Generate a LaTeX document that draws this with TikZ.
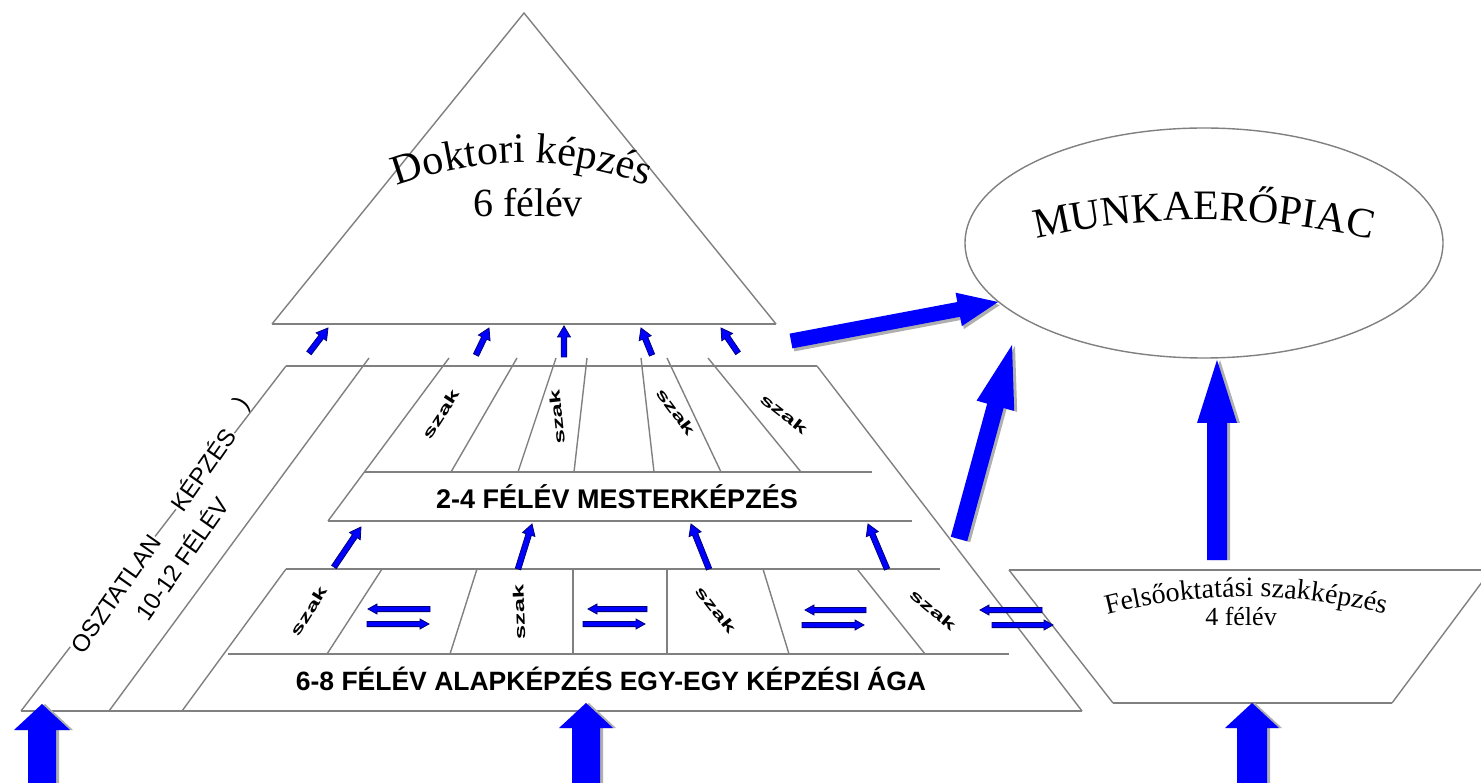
\documentclass[tikz,border=0pt]{standalone}
\usepackage{graphicx}
\usepackage{fontspec}
\setmainfont{Liberation Serif}
\newfontfamily\sansf{Liberation Sans}
\usetikzlibrary{calc,decorations.text,shapes.geometric}
\definecolor{lgray}{RGB}{128,128,128}
\definecolor{abl}{RGB}{0,0,255}
\definecolor{anv}{RGB}{0,0,120}
\definecolor{ashadow}{RGB}{175,175,175}
% #2 start, #3 tip, #4 shaft half width, #5 head half width, #6 head length
\newcommand\myblockarrow[6][]{%
  \path (#2) coordinate (ba-s) (#3) coordinate (ba-t);
  \path ($(ba-t)!#6!(ba-s)$) coordinate (ba-h);
  \path[#1] ($(ba-s)!#4!90:(ba-t)$) -- ($(ba-h)!#4!-90:(ba-s)$) -- ($(ba-h)!#5!-90:(ba-s)$) -- (ba-t) -- ($(ba-h)!#5!90:(ba-s)$) -- ($(ba-h)!#4!90:(ba-s)$) -- ($(ba-s)!#4!-90:(ba-t)$) -- cycle;}
\begin{document}
\begin{tikzpicture}[x=1pt,y=-1pt,
  hline/.style={draw=lgray, line width=2.6pt},
  dline/.style={draw=lgray, line width=1.4pt},
  bigarrow/.style={fill=abl},
  bigshadow/.style={fill=ashadow},
  smallarrow/.style={fill=abl, draw=anv, line width=0.8pt, line join=miter},
  szak/.style={font=\sansf\bfseries\fontsize{15}{15}\selectfont, inner sep=0pt},
  band/.style={font=\sansf\bfseries\fontsize{27}{27}\selectfont, anchor=base, inner sep=0pt},
  osz/.style={font=\sansf\fontsize{24}{24}\selectfont, rotate=55, inner sep=0.5pt, fill=white},
  arctext/.style={decorate, decoration={text along path, text align=center, text={#1}}}
]
\useasboundingbox (0,0) rectangle (1481,783);
\fill[white] (0,0) rectangle (1481,783);
\clip (0,0) rectangle (1481,783);

% ---------- triangle (doctoral) ----------
\coordinate (tA) at (524,13); \coordinate (tL) at (272,324); \coordinate (tR) at (776,324);
\draw[dline] (tL) -- (tA) -- (tR);
\draw[hline] (tL) -- (tR);

% ---------- pyramid outline ----------
\draw[dline] (286,366) -- (21,711);
\draw[dline] (817,366) -- (1082,711);
\draw[hline] (286,366) -- (817,366);
\draw[hline] (364,472) -- (872,472);
\draw[hline] (328,521) -- (912,521);
\draw[hline] (286,569) -- (940,569);
\draw[hline] (228,654) -- (1009,654);
\draw[hline] (21,711) -- (1082,711);

% level 2 dividers
\draw[dline] (369,358) -- (109,711);
\draw[dline] (449,358) -- (328,521);
\draw[dline] (517,358) -- (451,472);
\draw[dline] (556,358) -- (518,472);
\draw[dline] (587,358) -- (574,472);
\draw[dline] (641,358) -- (654,472);
\draw[dline] (667,358) -- (721,472);
\draw[dline] (708,358) -- (801,472);

% lower layer dividers
\draw[dline] (286,569) -- (182,711);
\draw[dline] (382,569) -- (327,654);
\draw[dline] (477,569) -- (450,654);
\draw[dline] (573,569) -- (573,654);
\draw[dline] (667,569) -- (667,654);
\draw[dline] (763,569) -- (789,654);
\draw[dline] (857,569) -- (925,654);

% ---------- Felsooktatasi szakkepzes trapezoid ----------
\draw[hline] (1009,570) -- (1495,570);
\draw[hline] (1113,703) -- (1392,703);
\draw[dline] (1009,570) -- (1113,703);
\draw[dline] (1392,703) -- (1491,570);

% ---------- ellipse ----------
\node[draw=lgray, line width=1.4pt, ellipse, minimum width=478pt, minimum height=230pt, inner sep=0pt] (munka) at (1204,243) {};

% ---------- small arrows, top row ----------
\coordinate (a1s) at (309,353); \coordinate (a1t) at (328,328);
\coordinate (a2s) at (476,355); \coordinate (a2t) at (489,328);
\coordinate (a3s) at (564,357); \coordinate (a3t) at (564,326);
\coordinate (a4s) at (652,355); \coordinate (a4t) at (641,328);
\coordinate (a5s) at (738,353); \coordinate (a5t) at (721,328);
\foreach \i in {1,...,5} {\myblockarrow[smallarrow]{a\i s}{a\i t}{2.8pt}{6.5pt}{11pt}}

% ---------- small arrows, second row ----------
\coordinate (b1s) at (334,567); \coordinate (b1t) at (361,527);
\coordinate (b2s) at (518,569); \coordinate (b2t) at (532,524);
\coordinate (b3s) at (709,569); \coordinate (b3t) at (691,524);
\coordinate (b4s) at (887,569); \coordinate (b4t) at (868,524);
\foreach \i in {1,...,4} {\myblockarrow[smallarrow]{b\i s}{b\i t}{2.8pt}{6.5pt}{11pt}}

% ---------- exchange arrows ----------
\coordinate (c1ls) at (430,609); \coordinate (c1lt) at (368,609);
\coordinate (c1rs) at (367,624); \coordinate (c1rt) at (429,624);
\coordinate (c2ls) at (647,609); \coordinate (c2lt) at (588,609);
\coordinate (c2rs) at (583,624); \coordinate (c2rt) at (645,624);
\coordinate (c3ls) at (866,610); \coordinate (c3lt) at (805,610);
\coordinate (c3rs) at (802,625); \coordinate (c3rt) at (864,625);
\coordinate (c4ls) at (1042,610); \coordinate (c4lt) at (980,610);
\coordinate (c4rs) at (992,625); \coordinate (c4rt) at (1053,625);
\foreach \i in {1,...,4} {
  \myblockarrow[smallarrow]{c\i ls}{c\i lt}{2.6pt}{5pt}{9pt}
  \myblockarrow[smallarrow]{c\i rs}{c\i rt}{2.6pt}{5pt}{9pt}}

% ---------- big arrows ----------
\coordinate (B1s) at (42,800);   \coordinate (B1t) at (42,704);
\coordinate (B2s) at (586,800);  \coordinate (B2t) at (586,703);
\coordinate (B3s) at (1252,800); \coordinate (B3t) at (1252,703);
\coordinate (B4s) at (1217,560); \coordinate (B4t) at (1217,360);
\coordinate (B5s) at (959,539);  \coordinate (B5t) at (1012,345);
\coordinate (B6s) at (791,341);  \coordinate (B6t) at (998,302);
\myblockarrow[bigshadow]{$(B1s)+(3,0)$}{$(B1t)+(3,0)$}{14pt}{28pt}{26pt}
\myblockarrow[bigarrow]{B1s}{B1t}{14pt}{28pt}{26pt}
\myblockarrow[bigshadow]{$(B2s)+(3,0)$}{$(B2t)+(3,0)$}{14pt}{27pt}{25pt}
\myblockarrow[bigarrow]{B2s}{B2t}{14pt}{27pt}{25pt}
\myblockarrow[bigshadow]{$(B3s)+(3,0)$}{$(B3t)+(3,0)$}{15pt}{27pt}{25pt}
\myblockarrow[bigarrow]{B3s}{B3t}{15pt}{27pt}{25pt}
\myblockarrow[bigshadow]{$(B4s)+(3,0)$}{$(B4t)+(3,0)$}{10pt}{20pt}{63pt}
\myblockarrow[bigarrow]{B4s}{B4t}{10pt}{20pt}{63pt}
\myblockarrow[bigshadow]{$(B5s)+(3,1)$}{$(B5t)+(3,1)$}{8.5pt}{19.5pt}{63pt}
\myblockarrow[bigarrow]{B5s}{B5t}{8.5pt}{19.5pt}{63pt}
\myblockarrow[bigshadow]{$(B6s)+(2,3)$}{$(B6t)+(2,3)$}{7.5pt}{17pt}{40pt}
\myblockarrow[bigarrow]{B6s}{B6t}{7.5pt}{17pt}{40pt}

% ---------- arched texts ----------
\path[arctext={|\fontsize{42}{42}\selectfont|Doktori képzés}] (396,186) .. controls (480,155) and (564,155) .. (648,186);
\node[anchor=base, font=\fontsize{40}{40}\selectfont, inner sep=0pt] (dkf) at (528,217) {6 félév};
\path[arctext={|\fontsize{42}{42}\selectfont|MUNKAERŐPIAC}] (1028,241) .. controls (1145,213) and (1263,213) .. (1380,241);
\path[arctext={|\fontsize{28}{28}\selectfont|Felsőoktatási szakképzés}] (1108,614) .. controls (1200,591) and (1292,591) .. (1384,614);
\node[anchor=base, font=\fontsize{26}{26}\selectfont, inner sep=0pt] (fsf) at (1241,625) {4 félév};

% ---------- band texts ----------
\node[band] (mest) at (617,508) {2-4 FÉLÉV MESTERKÉPZÉS};
\node[band, font=\sansf\bfseries\fontsize{26.5}{26.5}\selectfont] (alap) at (611,690) {6-8 FÉLÉV ALAPKÉPZÉS EGY-EGY KÉPZÉSI ÁGA};

% ---------- osztatlan ----------
\node[osz] (osz1) at (116,594) {OSZTATLAN};
\node[osz] (osz2) at (202,469) {KÉPZÉS};
\node[osz, fill=none] (osz3) at (243,404) {)};
\node[osz, fill=none] (osz4) at (181,558) {10-12 FÉLÉV};

% ---------- szak labels ----------
\node[szak, rotate=57] (s1) at (441,414) {\scalebox{1.7}[1]{szak}};
\node[szak, rotate=96] (s2) at (557,417) {\scalebox{1.7}[1]{szak}};
\node[szak, rotate=-53] (s3) at (676,412) {\scalebox{1.7}[1]{szak}};
\node[szak, rotate=-38] (s4) at (784,414) {\scalebox{1.7}[1]{szak}};
\node[szak, rotate=58] (t1) at (309,611) {\scalebox{1.7}[1]{szak}};
\node[szak, rotate=92] (t2) at (519,612) {\scalebox{1.7}[1]{szak}};
\node[szak, rotate=-52] (t3) at (716,610) {\scalebox{1.7}[1]{szak}};
\node[szak, rotate=-40] (t4) at (933,610) {\scalebox{1.7}[1]{szak}};
\end{tikzpicture}
\end{document}
